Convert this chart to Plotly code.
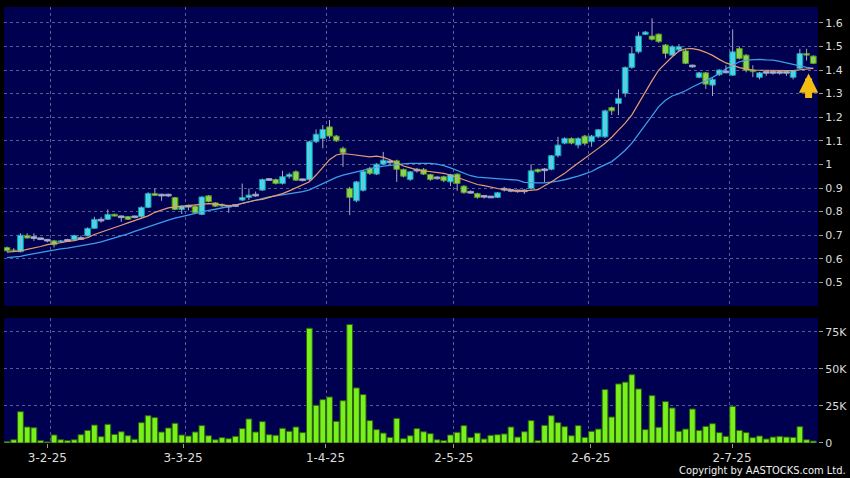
import plotly.graph_objects as go

# ---------------- data ----------------
open_ = [0.648, 0.637, 0.630, 0.699, 0.690, 0.685, 0.679, 0.676, 0.671, 0.678,
         0.680, 0.686, 0.697, 0.729, 0.764, 0.767, 0.789, 0.778, 0.779, 0.778,
         0.778, 0.818, 0.877, 0.870, 0.870, 0.860, 0.809, 0.823, 0.823, 0.788,
         0.867, 0.837, 0.830, 0.823, 0.826, 0.849, 0.860, 0.870, 0.891, 0.936,
         0.936, 0.919, 0.948, 0.969, 0.935, 0.935, 1.096, 1.110, 1.159, 1.120,
         1.068, 0.898, 0.846, 0.890, 0.983, 0.959, 1.001, 1.011, 1.015, 0.979,
         0.936, 0.976, 0.979, 0.957, 0.943, 0.948, 0.926, 0.959, 0.908, 0.882,
         0.877, 0.865, 0.862, 0.860, 0.895, 0.890, 0.888, 0.888, 0.898, 0.979,
         0.977, 0.979, 1.037, 1.090, 1.110, 1.082, 1.120, 1.096, 1.117, 1.117,
         1.241, 1.258, 1.301, 1.411, 1.477, 1.551, 1.544, 1.552, 1.506, 1.463,
         1.485, 1.481, 1.417, 1.369, 1.388, 1.336, 1.380, 1.392, 1.378, 1.491,
         1.463, 1.400, 1.369, 1.390, 1.390, 1.390, 1.390, 1.369, 1.407, 1.470,
         1.459]
high = [0.652, 0.645, 0.708, 0.708, 0.708, 0.690, 0.684, 0.680, 0.680, 0.685,
        0.702, 0.698, 0.733, 0.778, 0.778, 0.809, 0.790, 0.784, 0.781, 0.782,
        0.822, 0.882, 0.898, 0.876, 0.876, 0.862, 0.826, 0.830, 0.826, 0.865,
        0.870, 0.840, 0.835, 0.826, 0.832, 0.919, 0.898, 0.885, 0.940, 0.942,
        0.940, 0.973, 0.965, 0.975, 0.940, 1.100, 1.148, 1.167, 1.188, 1.125,
        1.075, 0.905, 0.930, 0.975, 0.990, 1.005, 1.053, 1.020, 1.020, 0.982,
        0.972, 0.985, 0.985, 0.960, 0.950, 0.952, 0.960, 0.962, 0.912, 0.890,
        0.880, 0.868, 0.866, 0.882, 0.905, 0.895, 0.892, 0.895, 1.001, 0.982,
        0.985, 1.040, 1.117, 1.115, 1.115, 1.115, 1.125, 1.125, 1.150, 1.232,
        1.245, 1.318, 1.415, 1.500, 1.562, 1.565, 1.619, 1.555, 1.510, 1.505,
        1.510, 1.490, 1.423, 1.392, 1.392, 1.365, 1.403, 1.420, 1.572, 1.500,
        1.467, 1.420, 1.392, 1.400, 1.398, 1.400, 1.398, 1.400, 1.490, 1.490,
        1.462]
low = [0.630, 0.632, 0.628, 0.686, 0.676, 0.680, 0.670, 0.648, 0.668, 0.672,
       0.678, 0.680, 0.695, 0.727, 0.753, 0.765, 0.780, 0.757, 0.765, 0.772,
       0.775, 0.815, 0.866, 0.846, 0.862, 0.806, 0.790, 0.805, 0.793, 0.785,
       0.840, 0.820, 0.820, 0.795, 0.820, 0.845, 0.849, 0.862, 0.888, 0.930,
       0.915, 0.915, 0.940, 0.930, 0.928, 0.930, 1.090, 1.068, 1.110, 1.095,
       0.990, 0.785, 0.840, 0.885, 0.955, 0.955, 0.998, 1.000, 0.926, 0.945,
       0.930, 0.965, 0.955, 0.930, 0.935, 0.925, 0.908, 0.888, 0.876, 0.875,
       0.855, 0.855, 0.858, 0.858, 0.885, 0.882, 0.880, 0.875, 0.895, 0.965,
       0.925, 0.975, 1.030, 1.085, 1.085, 1.068, 1.080, 1.075, 1.112, 1.112,
       1.209, 1.209, 1.286, 1.405, 1.470, 1.548, 1.525, 1.515, 1.449, 1.460,
       1.480, 1.425, 1.410, 1.365, 1.320, 1.290, 1.375, 1.385, 1.375, 1.445,
       1.390, 1.370, 1.360, 1.375, 1.380, 1.380, 1.375, 1.360, 1.405, 1.440,
       1.425]
close = [0.634, 0.635, 0.700, 0.688, 0.690, 0.685, 0.679, 0.660, 0.676, 0.678,
         0.699, 0.686, 0.729, 0.767, 0.764, 0.788, 0.781, 0.778, 0.767, 0.778,
         0.818, 0.877, 0.868, 0.870, 0.870, 0.809, 0.823, 0.823, 0.795, 0.862,
         0.842, 0.823, 0.824, 0.823, 0.826, 0.860, 0.870, 0.870, 0.936, 0.936,
         0.919, 0.948, 0.958, 0.933, 0.935, 1.096, 1.128, 1.148, 1.120, 1.100,
         1.049, 0.860, 0.926, 0.970, 0.962, 1.001, 1.018, 1.011, 0.979, 0.950,
         0.969, 0.976, 0.959, 0.936, 0.943, 0.931, 0.957, 0.919, 0.880, 0.882,
         0.860, 0.865, 0.862, 0.880, 0.895, 0.890, 0.888, 0.888, 0.973, 0.969,
         0.977, 1.037, 1.082, 1.110, 1.090, 1.110, 1.089, 1.120, 1.147, 1.227,
         1.227, 1.280, 1.411, 1.470, 1.544, 1.561, 1.530, 1.520, 1.470, 1.499,
         1.499, 1.428, 1.417, 1.388, 1.340, 1.360, 1.400, 1.392, 1.477, 1.449,
         1.398, 1.393, 1.388, 1.390, 1.390, 1.390, 1.390, 1.398, 1.470, 1.463,
         1.428]
ma_short = [0.628, 0.630, 0.633, 0.640, 0.645, 0.652, 0.660, 0.663, 0.668, 0.674,
            0.677, 0.684, 0.690, 0.703, 0.712, 0.722, 0.732, 0.742, 0.752, 0.762,
            0.770, 0.782, 0.797, 0.808, 0.816, 0.820, 0.823, 0.826, 0.829, 0.832,
            0.834, 0.833, 0.828, 0.824, 0.828, 0.835, 0.842, 0.848, 0.852, 0.860,
            0.867, 0.876, 0.888, 0.900, 0.912, 0.926, 0.955, 0.990, 1.020, 1.040,
            1.046, 1.043, 1.039, 1.034, 1.032, 1.035, 1.030, 1.020, 1.005, 0.993,
            0.985, 0.977, 0.973, 0.970, 0.968, 0.962, 0.955, 0.945, 0.933, 0.922,
            0.915, 0.910, 0.903, 0.898, 0.893, 0.890, 0.888, 0.888, 0.889, 0.893,
            0.910, 0.925, 0.945, 0.962, 0.985, 1.005, 1.025, 1.045, 1.068, 1.090,
            1.115, 1.145, 1.175, 1.210, 1.260, 1.310, 1.355, 1.400, 1.430, 1.456,
            1.480, 1.490, 1.491, 1.485, 1.475, 1.462, 1.445, 1.430, 1.420, 1.410,
            1.405, 1.400, 1.399, 1.398, 1.398, 1.398, 1.398, 1.398, 1.400, 1.403,
            1.407]
ma_long = [0.605, 0.606, 0.610, 0.617, 0.622, 0.628, 0.634, 0.638, 0.642, 0.645,
           0.650, 0.654, 0.658, 0.665, 0.672, 0.680, 0.688, 0.696, 0.706, 0.716,
           0.726, 0.737, 0.746, 0.755, 0.764, 0.772, 0.779, 0.786, 0.794, 0.799,
           0.805, 0.810, 0.815, 0.820, 0.827, 0.835, 0.842, 0.850, 0.856, 0.862,
           0.867, 0.871, 0.875, 0.879, 0.885, 0.892, 0.905, 0.920, 0.933, 0.945,
           0.955, 0.962, 0.968, 0.975, 0.982, 0.988, 0.993, 0.997, 1.000, 1.002,
           1.004, 1.005, 1.005, 1.004, 1.001, 0.995, 0.985, 0.973, 0.962, 0.952,
           0.946, 0.944, 0.942, 0.941, 0.939, 0.937, 0.933, 0.924, 0.922, 0.922,
           0.922, 0.925, 0.929, 0.935, 0.942, 0.950, 0.960, 0.970, 0.985, 0.998,
           1.012, 1.035, 1.060, 1.090, 1.130, 1.170, 1.210, 1.245, 1.272, 1.290,
           1.300, 1.312, 1.328, 1.343, 1.355, 1.369, 1.385, 1.405, 1.420, 1.435,
           1.442, 1.445, 1.445, 1.443, 1.442, 1.437, 1.430, 1.424, 1.416, 1.411,
           1.407]
volume_k = [0.9, 2.2, 21.1, 10.8, 10.3, 1.6, 0.7, 5.4, 2.2, 1.6,
            2.2, 5.6, 8.5, 12.1, 4.3, 12.6, 5.8, 7.6, 4.9, 2.5,
            13.7, 18.4, 17.1, 7.4, 10.1, 13.3, 5.4, 4.7, 7.4, 11.7,
            4.9, 2.2, 3.6, 2.9, 4.5, 9.7, 16.2, 7.4, 14.4, 5.6,
            5.2, 9.9, 7.9, 10.8, 7.0, 77.3, 25.4, 29.2, 31.0, 14.6,
            28.5, 79.8, 37.1, 32.6, 15.1, 9.0, 6.7, 3.8, 16.6, 2.9,
            4.9, 9.7, 7.6, 6.3, 2.2, 1.6, 5.4, 7.2, 11.7, 3.8,
            6.7, 2.7, 5.2, 5.6, 6.1, 10.8, 4.0, 7.6, 15.1, 1.6,
            11.9, 18.4, 13.7, 11.0, 4.9, 11.7, 3.8, 7.9, 9.4, 36.0,
            17.5, 39.8, 41.0, 46.0, 36.4, 9.0, 31.9, 10.6, 27.9, 23.6,
            7.9, 9.4, 22.9, 8.5, 11.2, 13.0, 7.0, 4.5, 24.7, 8.5,
            7.0, 3.6, 4.7, 2.7, 4.0, 4.5, 4.0, 3.8, 11.0, 2.2,
            1.3]
x_labels = ["3-2-25", "3-3-25", "1-4-25", "2-5-25", "2-6-25", "2-7-25"]
price_ticks = [0.5, 0.6, 0.7, 0.8, 0.9, 1.0, 1.1, 1.2, 1.3, 1.4, 1.5, 1.6]
price_tick_text = ["0.5", "0.6", "0.7", "0.8", "0.9", "1", "1.1", "1.2", "1.3", "1.4", "1.5", "1.6"]
vol_ticks = [0, 25000, 50000, 75000]
vol_tick_text = ["0", "25K", "50K", "75K"]

# ---------------- positions / styles ----------------
label_pos = [6.0, 26.2, 47.4, 66.5, 86.9, 107.9]     # where the month labels sit
month_grid = [6.5, 26.5, 47.5, 66.5, 86.5, 107.5]    # month boundaries (grid)
XR = [-0.45, 120.7]
GRID = "#5a5a8e"
DASH = "3px,3px"
TXT = "#dcdcdc"

n = len(close)
x = list(range(n))
volume = [v * 1000 for v in volume_k]

fig = go.Figure()

# moving averages
fig.add_trace(go.Scatter(x=x, y=ma_long, mode="lines", line=dict(color="#3c9ee8", width=1.3),
                         hoverinfo="skip"))
fig.add_trace(go.Scatter(x=x, y=ma_short, mode="lines", line=dict(color="#e89c70", width=1.2),
                         hoverinfo="skip"))

# whiskers
wx, wy = [], []
for i in range(n):
    wx += [i, i, None]
    wy += [low[i], high[i], None]
fig.add_trace(go.Scatter(x=wx, y=wy, mode="lines", line=dict(color="#a8a8c0", width=1),
                         hoverinfo="skip"))

# candle bodies
def bodies(kind):
    xs, base, h = [], [], []
    for i in range(n):
        o, c = open_[i], close[i]
        if kind == "up" and c > o:
            xs.append(i); base.append(o); h.append(c - o)
        elif kind == "down" and c < o:
            xs.append(i); base.append(c); h.append(o - c)
        elif kind == "flat" and c == o:
            xs.append(i); base.append(c - 0.0035); h.append(0.007)
    return xs, base, h

styles = {"up": ("#2ee3f3", "#1590a8"), "down": ("#82e22c", "#4e8c1c"), "flat": ("#bac0dc", "#9aa0c4")}
for kind, (fill, edge) in styles.items():
    xs, base, h = bodies(kind)
    fig.add_trace(go.Bar(x=xs, y=h, base=base, width=0.86,
                         marker=dict(color=fill, line=dict(color=edge, width=1)),
                         xaxis="x", yaxis="y", hoverinfo="skip"))

# volume
fig.add_trace(go.Bar(x=x, y=volume, width=0.86,
                     marker=dict(color="#78f01c", line=dict(color="#2d5e0e", width=1)),
                     xaxis="x2", yaxis="y2", hoverinfo="skip"))

fig.add_annotation(x=119.3, y=1.385, xref="x", yref="y", ax=0, ay=26, text="",
                   showarrow=True, arrowhead=2, arrowsize=0.55, arrowwidth=7, arrowcolor="#f3bd12")

fig.add_annotation(x=1.037, y=-0.064, xref="paper", yref="paper", xanchor="right", yanchor="middle",
                   text="Copyright by AASTOCKS.com Ltd.", showarrow=False,
                   font=dict(family="DejaVu Sans Condensed, Liberation Sans Narrow, DejaVu Sans", size=11,
                             color="#f0f0f0"))

fig.update_layout(
    width=850, height=478,
    margin=dict(l=4, r=32, t=7, b=35, autoexpand=False),
    paper_bgcolor="#000000", plot_bgcolor="#000050",
    showlegend=False, barmode="overlay", bargap=0,
    font=dict(family="DejaVu Sans", color=TXT),
    xaxis=dict(domain=[0, 1], range=XR, anchor="y", tickmode="array", tickvals=month_grid,
               showticklabels=False, ticks="", showgrid=True, gridcolor=GRID, griddash=DASH,
               gridwidth=1, zeroline=False, showline=False, fixedrange=True),
    yaxis=dict(domain=[0.3142, 1], range=[0.40, 1.667], side="right", anchor="x",
               tickmode="array", tickvals=price_ticks, ticktext=price_tick_text,
               ticks="outside", ticklen=4, tickcolor="#9a9a9a",
               tickfont=dict(size=11, color=TXT, family="DejaVu Sans"),
               showgrid=True, gridcolor=GRID, griddash=DASH, gridwidth=1,
               zeroline=False, showline=False),
    xaxis2=dict(domain=[0, 1], range=XR, anchor="y2", tickmode="array", tickvals=label_pos,
                ticktext=x_labels, ticks="outside", ticklen=4, tickcolor="#9a9a9a",
                tickfont=dict(size=12, color=TXT, family="DejaVu Sans"),
                showgrid=False, zeroline=False, showline=False,
                minor=dict(tickmode="array", tickvals=month_grid, showgrid=True,
                           gridcolor=GRID, griddash=DASH, gridwidth=1, ticks="")),
    yaxis2=dict(domain=[0, 0.2867], range=[0, 84200], side="right", anchor="x2",
                tickmode="array", tickvals=vol_ticks, ticktext=vol_tick_text,
                ticks="outside", ticklen=4, tickcolor="#9a9a9a",
                tickfont=dict(size=11, color=TXT, family="DejaVu Sans"),
                showgrid=True, gridcolor=GRID, griddash=DASH, gridwidth=1,
                zeroline=False, showline=False),
)

fig.write_html("out.html", config={"displayModeBar": False, "staticPlot": True},
               post_script="document.body.style.margin='0';document.body.style.background='#000';")
